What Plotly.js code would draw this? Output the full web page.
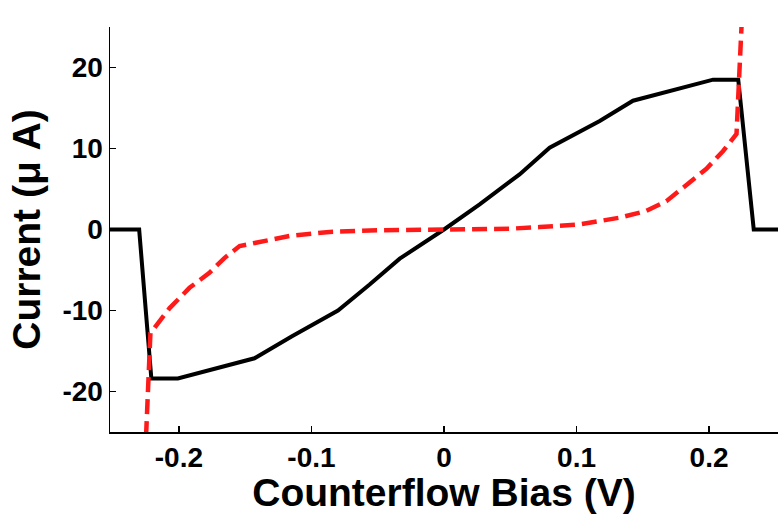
<!DOCTYPE html>
<html>
<head>
<meta charset="utf-8">
<script src="https://cdn.plot.ly/plotly-3.0.1.min.js"></script>
<style>html,body{margin:0;padding:0;background:#fff;}#plot{width:778px;height:514px;}</style>
</head>
<body>
<div id="plot"></div>
<script>
// Black solid curve (current)
var blackX = [-0.252, -0.230, -0.2208, -0.2008, -0.143, -0.115, -0.080, -0.0561, -0.0334, 0.000, 0.0269, 0.057, 0.0797, 0.1175, 0.1426, 0.203, 0.222, 0.2337, 0.252];
var blackY = [0, 0, -18.4, -18.4, -15.9, -13.2, -10.0, -6.8, -3.6, 0, 3.1, 6.8, 10.1, 13.4, 15.9, 18.5, 18.5, 0, 0];

// Red dashed curve
var redX = [-0.2248, -0.2215, -0.207, -0.192, -0.177, -0.1655, -0.1542, -0.1353, -0.1166, -0.0864, -0.05, 0.000, 0.05, 0.0722, 0.1024, 0.1326, 0.1527, 0.1678, 0.183, 0.198, 0.2106, 0.2207, 0.2246];
var redY = [-25.5, -12.8, -9.7, -7.2, -5.35, -3.5, -2.04, -1.4, -0.8, -0.3, -0.1, 0, 0.1, 0.3, 0.64, 1.46, 2.3, 3.5, 5.6, 7.5, 9.7, 11.8, 25.5];

var xTicks = [-0.2, -0.1, 0, 0.1, 0.2];
var xTickText = ["-0.2", "-0.1", "0", "0.1", "0.2"];
var yTicks = [-20, -10, 0, 10, 20];
var yTickText = ["-20", "-10", "0", "10", "20"];

var fontFam = "Liberation Sans, Arial, Helvetica, sans-serif";

var traces = [
  {x: blackX, y: blackY, mode: "lines", line: {color: "#000000", width: 4}, hoverinfo: "skip"},
  {x: redX, y: redY, mode: "lines", line: {color: "#ff1a1a", width: 4.5, dash: "15px,7px"}, hoverinfo: "skip"}
];

var layout = {
  width: 778, height: 514,
  margin: {l: 110, r: 0, t: 27, b: 82},
  paper_bgcolor: "#ffffff", plot_bgcolor: "#ffffff",
  showlegend: false,
  xaxis: {
    range: [-0.252, 0.252], tickvals: xTicks, ticktext: xTickText,
    ticks: "inside", ticklen: 6, tickwidth: 1.5, tickcolor: "#000",
    showline: true, linecolor: "#000", linewidth: 1.5, mirror: false,
    showgrid: false, zeroline: false,
    tickfont: {family: fontFam, size: 28, color: "#000", weight: "bold"},
    title: {text: "Counterflow Bias (V)", font: {family: fontFam, size: 39, color: "#000", weight: "bold"}, standoff: 4},
    automargin: false
  },
  yaxis: {
    range: [-25, 25], tickvals: yTicks, ticktext: yTickText,
    ticks: "inside", ticklen: 6, tickwidth: 1.5, tickcolor: "#000",
    showline: true, linecolor: "#000", linewidth: 1.5, mirror: false,
    showgrid: false, zeroline: false,
    tickfont: {family: fontFam, size: 28, color: "#000", weight: "bold"},
    title: {text: "Current (μ A)", font: {family: fontFam, size: 39, color: "#000", weight: "bold"}, standoff: 10},
    automargin: false
  }
};

Plotly.newPlot("plot", traces, layout, {staticPlot: true, displayModeBar: false});
</script>
</body>
</html>
